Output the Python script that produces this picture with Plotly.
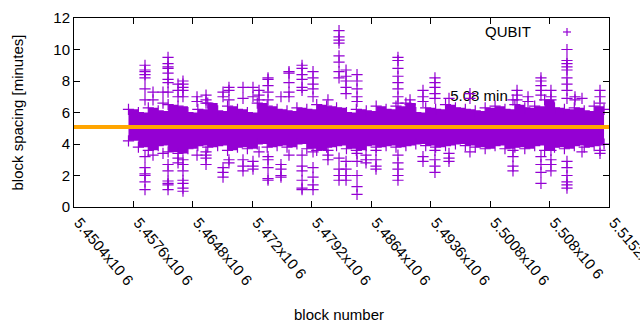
import plotly.graph_objects as go

# ---------------- data ----------------
x_range = [5450400, 5515200]
tick_vals = [5450400, 5457600, 5464800, 5472000, 5479200, 5486400, 5493600, 5500800, 5508000, 5515200]
tick_text = ["5.4504x10 6", "5.4576x10 6", "5.4648x10 6", "5.472x10 6", "5.4792x10 6",
             "5.4864x10 6", "5.4936x10 6", "5.5008x10 6", "5.508x10 6", "5.5152x10 6"]

mean_spacing = 5.08
label_block = 5499450
label_value = 7.0

# dense band of block spacings: block number and upper / lower envelope (minutes)
band_blocks = [5457000, 5458200, 5459400, 5460600, 5461800, 5463000, 5464200, 5465400, 5466600,
               5467800, 5469000, 5470200, 5471400, 5472600, 5473800, 5475000, 5476200, 5477400,
               5478600, 5479800, 5481000, 5482200, 5483400, 5484600, 5485800, 5487000, 5488200,
               5489400, 5490600, 5491800, 5493000, 5494200, 5495400, 5496600, 5497800, 5499000,
               5500200, 5501400, 5502600, 5503800, 5505000, 5506200, 5507400, 5508600, 5509800,
               5511000, 5512200, 5513400, 5514600]
band_upper = [6.2, 6.0, 6.3, 6.1, 6.5, 6.4, 6.0, 6.2, 6.6, 6.1, 6.4, 6.2, 6.0, 6.6, 6.4, 6.2, 6.1,
              6.3, 6.2, 6.5, 6.4, 6.3, 6.0, 6.2, 6.1, 6.4, 6.2, 6.4, 6.6, 6.0, 6.3, 6.2, 6.5, 6.3,
              6.2, 6.1, 6.3, 6.4, 6.2, 6.5, 6.3, 6.4, 6.8, 6.3, 6.2, 6.3, 6.1, 6.4, 6.2]
band_lower = [4.2, 3.8, 3.6, 3.9, 3.5, 3.4, 3.7, 3.9, 3.8, 3.9, 3.6, 3.8, 3.7, 4.0, 3.8, 3.9, 3.8,
              4.0, 3.7, 3.6, 3.8, 3.9, 3.7, 3.6, 3.9, 3.8, 3.9, 3.8, 3.9, 4.0, 3.9, 3.8, 3.9, 4.0,
              3.9, 3.8, 3.7, 3.9, 3.7, 3.8, 3.7, 3.9, 3.6, 3.8, 3.7, 3.9, 3.8, 3.9, 4.0]

# outlying block spacings, grouped by block number
outlier_blocks = [5459000, 5459970, 5461180, 5461790, 5463000, 5463600, 5465300, 5466390,
                  5468450, 5469170, 5470870, 5472080, 5472810, 5473900, 5475470, 5476440,
                  5478020, 5479350, 5481160, 5482500, 5483350, 5484680, 5485770, 5486980,
                  5489640, 5491100, 5492670, 5494120, 5495820, 5498360, 5503570, 5504060,
                  5505390, 5506960, 5508170, 5510110, 5511080, 5511930, 5514110]
outlier_values = [
    [9.0, 8.7, 8.6, 8.4, 8.2, 7.5, 6.8, 3.2, 2.5, 2.1, 2.0, 1.6, 1.1],
    [7.3, 6.8, 3.3],
    [7.3, 6.6, 3.4],
    [9.5, 9.1, 8.9, 8.8, 8.5, 8.1, 7.9, 7.3, 2.7, 2.3, 1.65, 1.5, 1.4, 1.1],
    [7.8, 7.4, 7.0, 3.1, 2.8],
    [8.0, 7.8, 7.6, 7.4, 7.0, 3.0, 2.7, 2.3, 1.7, 1.5, 1.2, 1.0],
    [7.0, 6.7, 3.3],
    [7.1, 6.8, 6.6, 3.5, 3.3, 3.1, 2.7],
    [7.3, 7.0, 2.5, 2.2, 1.9],
    [7.6, 7.4, 6.8, 3.0, 2.8],
    [7.6, 6.9, 3.0, 2.6, 2.3],
    [7.6, 7.0, 2.9, 2.6, 2.4],
    [7.4, 7.1, 6.8, 3.5],
    [8.2, 8.1, 7.7, 7.3, 6.8, 3.2, 3.0, 2.5, 1.8, 1.7],
    [7.0, 2.7, 2.4, 2.0, 1.9],
    [8.6, 8.5, 7.9, 7.3, 7.0, 3.3],
    [9.0, 8.8, 8.4, 8.1, 7.6, 7.4, 3.3, 2.6, 2.3, 1.7, 1.2, 1.1],
    [8.6, 8.2, 7.8, 7.5, 7.0, 3.5, 2.5, 1.9, 1.4, 1.1],
    [6.8, 3.6, 3.3, 3.0],
    [11.2, 10.8, 10.6, 10.4, 9.6, 9.2, 8.6, 8.2, 3.1, 2.4, 2.0, 1.7],
    [8.7, 8.3, 8.0, 7.6, 7.2, 2.9, 2.4, 2.0, 1.7],
    [8.4, 8.0, 7.5, 7.0, 6.7, 3.4, 2.9, 2.0, 1.3, 0.8],
    [3.3, 3.0, 2.8],
    [3.6, 3.0, 2.6, 2.4],
    [9.5, 9.3, 8.8, 8.3, 7.9, 7.5, 7.0, 6.6, 3.3, 2.8, 2.4, 2.0, 1.7],
    [6.8, 6.5],
    [7.4, 7.0, 6.7, 3.2, 2.9],
    [8.2, 7.9, 7.6, 7.2, 6.9, 3.6, 3.0, 2.6, 2.2],
    [6.9, 3.4, 3.1, 2.9],
    [7.2, 6.9, 3.5],
    [6.8, 3.6, 3.2, 2.6, 2.3],
    [7.4, 7.1, 6.8],
    [7.0, 6.7],
    [8.2, 8.0, 7.7, 7.4, 7.1, 3.2, 2.7, 2.2, 1.5],
    [7.4, 7.0, 6.8, 3.6, 3.0, 2.7, 2.3],
    [10.0, 9.3, 9.1, 8.9, 8.7, 8.2, 7.8, 7.4, 6.9, 2.9, 2.5, 2.0, 1.6, 1.4, 1.2],
    [7.0, 6.8],
    [6.9, 3.5],
    [7.4, 7.0, 6.6, 3.6, 3.4],
]

series_name = "QUBIT"

# ---------------- figure ----------------
PURPLE = "#9400D3"
ORANGE = "#FFA500"
FONT = "Liberation Sans, Arial, sans-serif"

out_x, out_y = [], []
for b, vals in zip(outlier_blocks, outlier_values):
    for v in vals:
        out_x.append(b)
        out_y.append(v)

plus = dict(symbol="cross-thin", size=8, color=PURPLE, line=dict(color=PURPLE, width=1.2))

fig = go.Figure()

# label drawn under the data, like the original
fig.add_trace(go.Scatter(x=[label_block], y=[label_value], mode="text",
                         text=[f"{mean_spacing:.2f} min"], textposition="middle center",
                         textfont=dict(family=FONT, size=15, color="#000000"),
                         showlegend=False, hoverinfo="skip"))

fig.add_trace(go.Scatter(x=band_blocks, y=band_lower, mode="lines+markers",
                         line=dict(color=PURPLE, width=0, shape="hv"), marker=plus,
                         showlegend=False))
fig.add_trace(go.Scatter(x=band_blocks, y=band_upper, mode="lines+markers",
                         line=dict(color=PURPLE, width=0, shape="hv"), marker=plus,
                         fill="tonexty", fillcolor=PURPLE, showlegend=False))
fig.add_trace(go.Scatter(x=out_x, y=out_y, mode="markers", marker=plus,
                         name=series_name, showlegend=False))

fig.add_trace(go.Scatter(x=x_range, y=[mean_spacing, mean_spacing], mode="lines",
                         line=dict(color=ORANGE, width=4), showlegend=False))

# legend drawn the gnuplot way: text then sample
lx, ly = 0.9215, 0.926
dx, dy = 4 / 535, 4 / 189
fig.add_shape(type="line", xref="paper", yref="paper", x0=lx - dx, x1=lx + dx, y0=ly, y1=ly,
              line=dict(color=PURPLE, width=1.2))
fig.add_shape(type="line", xref="paper", yref="paper", x0=lx, x1=lx, y0=ly - dy, y1=ly + dy,
              line=dict(color=PURPLE, width=1.2))
fig.add_annotation(text=series_name, xref="paper", yref="paper", x=0.858, y=ly,
                   xanchor="right", yanchor="middle", showarrow=False,
                   font=dict(family=FONT, size=15, color="#000000"))

# axis titles
fig.add_annotation(text="block spacing [minutes]", xref="paper", yref="paper",
                   x=-0.1065, y=0.5, xanchor="center", yanchor="middle", textangle=-90,
                   showarrow=False, font=dict(family=FONT, size=15, color="#000000"))
fig.add_annotation(text="block number", xref="paper", yref="paper",
                   x=0.495, y=-0.571, xanchor="center", yanchor="middle",
                   showarrow=False, font=dict(family=FONT, size=15, color="#000000"))

axis_common = dict(showgrid=False, zeroline=False, showline=True, linecolor="#000000",
                   linewidth=1, mirror="ticks", ticks="inside", ticklen=6, automargin=False,
                   tickcolor="#000000", tickfont=dict(family=FONT, size=15, color="#000000"))

fig.update_xaxes(range=x_range, tickmode="array", tickvals=tick_vals, ticktext=tick_text,
                 tickangle=50, ticklabeloverflow="allow", ticklabelshift=5, **axis_common)
fig.update_yaxes(range=[0, 12], tickmode="array", tickvals=[0, 2, 4, 6, 8, 10, 12], **axis_common)

fig.update_layout(width=640, height=330, margin=dict(l=74, r=31, t=18, b=123),
                  paper_bgcolor="#ffffff", plot_bgcolor="#ffffff", showlegend=False)

fig.write_html("out.html")
